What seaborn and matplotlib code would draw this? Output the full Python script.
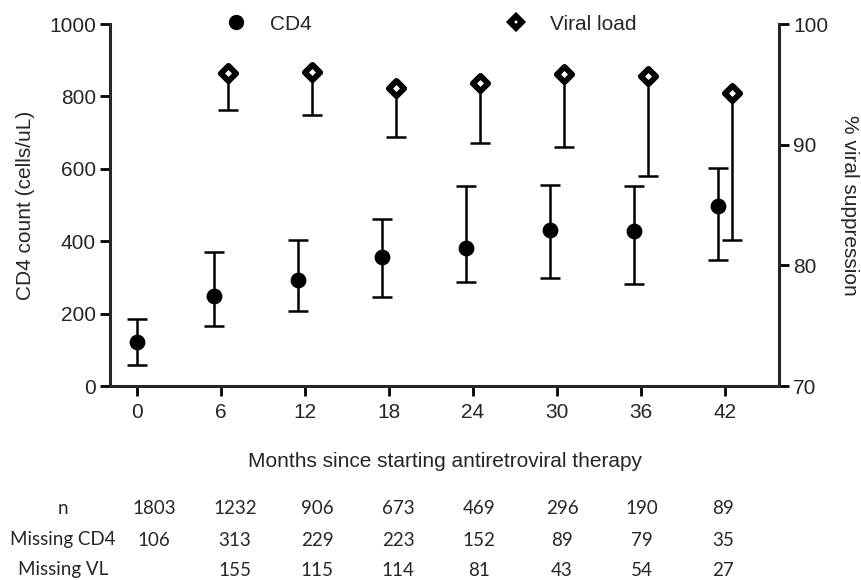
import matplotlib
matplotlib.use('Agg')
import matplotlib.pyplot as plt
import seaborn as sns
from matplotlib.lines import Line2D
import numpy as np
import pandas as pd

# --- DATA ---
months = [0, 6, 12, 18, 24, 30, 36, 42]
cd4_median = [122, 250, 292, 356, 380, 432, 429, 496]
cd4_low = [59, 167, 206, 247, 286, 298, 282, 349]
cd4_high = [185, 370, 404, 461, 553, 556, 553, 603]

vl_months = [6, 12, 18, 24, 30, 36, 42]
vl_pct = [95.95, 96.0, 94.7, 95.1, 95.85, 95.7, 94.25]
vl_low = [92.9, 92.5, 90.6, 90.15, 89.8, 87.4, 82.1]

row_labels = ["n", "Missing CD4", "Missing VL"]
n_row = ["1803", "1232", "906", "673", "469", "296", "190", "89"]
miss_cd4_row = ["106", "313", "229", "223", "152", "89", "79", "35"]
miss_vl_row = ["", "155", "115", "114", "81", "43", "54", "27"]

# --- STYLE ---
sns.set_style("ticks")
plt.rcParams['font.family'] = ['Liberation Sans', 'DejaVu Sans']
TABLE_FONT = ['Liberation Sans Narrow', 'Lato', 'DejaVu Sans']

fig = plt.figure(figsize=(8.62, 5.80), dpi=100)
ax = fig.add_axes([110 / 862, 1 - 386 / 580, 669 / 862, 362 / 580])
ax2 = ax.twinx()

cd4_df = pd.DataFrame({"month": months, "cd4": cd4_median,
                       "low": cd4_low, "high": cd4_high})
cd4_df["x"] = cd4_df["month"] + np.where(cd4_df["month"] > 0, -0.5, 0.0)
vl_df = pd.DataFrame({"month": vl_months, "vl": vl_pct, "low": vl_low})
vl_df["x"] = vl_df["month"] + 0.5

# CD4 error bars + points
ax.errorbar(cd4_df["x"], cd4_df["cd4"],
            yerr=[cd4_df["cd4"] - cd4_df["low"], cd4_df["high"] - cd4_df["cd4"]],
            fmt='none', ecolor='black', elinewidth=1.8, capsize=7, capthick=1.8, zorder=2)
sns.scatterplot(data=cd4_df, x="x", y="cd4", ax=ax, marker='o', s=130,
                color='black', edgecolor='black', linewidth=0, zorder=3, legend=False)

# Viral load: lower bars only
ax2.errorbar(vl_df["x"], vl_df["vl"],
             yerr=[vl_df["vl"] - vl_df["low"], np.zeros(len(vl_df))],
             fmt='none', ecolor='black', elinewidth=1.8, capsize=7, capthick=1.8, zorder=2)
sns.scatterplot(data=vl_df, x="x", y="vl", ax=ax2, marker='D', s=60,
                color='white', edgecolor='black', linewidth=4.2, zorder=3, legend=False)

# --- AXES ---
ax.set_xlim(-1.93, 45.86)
ax.set_ylim(0, 1000)
ax2.set_ylim(70, 100)
ax.set_xticks(months)
ax.set_yticks([0, 200, 400, 600, 800, 1000])
ax2.set_yticks([70, 80, 90, 100])

ax.set_xlabel("Months since starting antiretroviral therapy", fontsize=15, labelpad=22)
ax.set_ylabel("CD4 count (cells/uL)", fontsize=15, labelpad=10)
ax2.set_ylabel("% viral suppression", fontsize=15, rotation=270, labelpad=22)

for a in (ax, ax2):
    a.tick_params(axis='both', labelsize=15, width=2, length=7, color='black', pad=3)
    for s in a.spines.values():
        s.set_linewidth(2.2)
ax.tick_params(axis='x', pad=5)
ax.spines['top'].set_visible(False)
ax.spines['right'].set_visible(False)
ax2.spines['top'].set_visible(False)
ax2.spines['left'].set_visible(False)
ax2.spines['bottom'].set_visible(False)
ax2.set_xlabel("")

# --- LEGEND ---
handles = [
    Line2D([], [], marker='o', linestyle='none', color='black', markersize=10),
    Line2D([], [], marker='D', linestyle='none', markerfacecolor='white',
           markeredgecolor='black', markeredgewidth=4.2, markersize=6.3),
]
fig.legend(handles, ["CD4", "Viral load"], ncol=2, loc='center',
           bbox_to_anchor=(431 / 862, 1 - 24 / 580), frameon=False, fontsize=15,
           handlelength=1.0, handletextpad=1.15, columnspacing=9.3)

# --- TABLE BELOW ---
col_x = [154, 235, 317, 398, 479, 562, 642, 723]
row_y = [508, 540, 570]
for label, y, row in zip(row_labels, row_y, [n_row, miss_cd4_row, miss_vl_row]):
    fig.text(63 / 862, 1 - y / 580, label, ha='center', va='center',
             fontsize=13.5, family=TABLE_FONT)
    for xp, val in zip(col_x, row):
        fig.text(xp / 862, 1 - y / 580, val, ha='center', va='center',
                 fontsize=13.5, family=TABLE_FONT)

fig.savefig("out.png", dpi=100)
